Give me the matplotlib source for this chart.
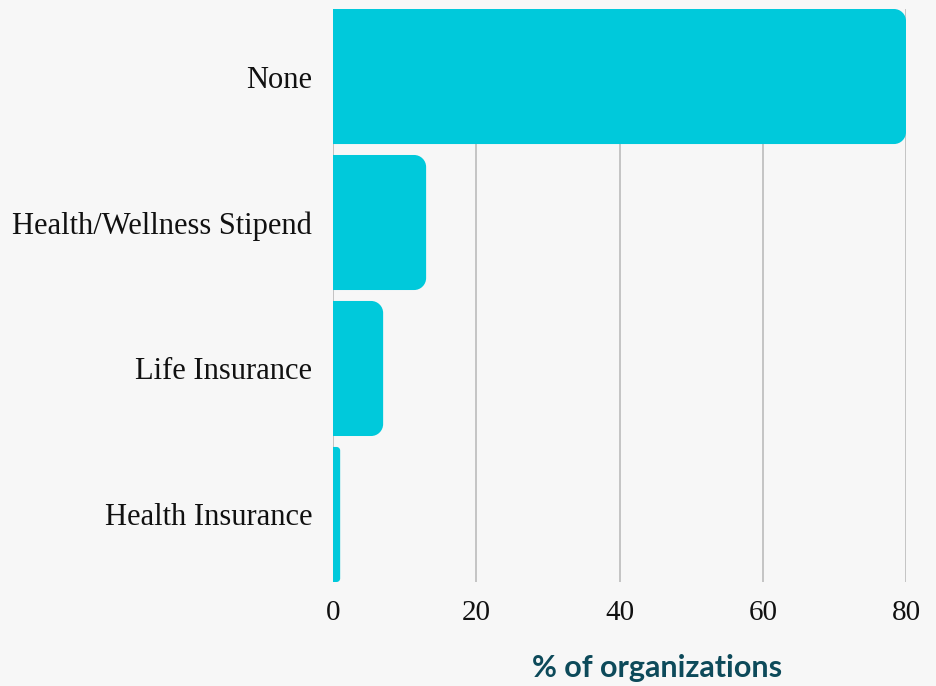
import matplotlib
matplotlib.use('Agg')
import numpy as np
from matplotlib import pyplot as plt
from matplotlib.path import Path
from matplotlib.patches import PathPatch

categories = ['None', 'Health/Wellness Stipend', 'Life Insurance', 'Health Insurance']
values = [80, 13, 7, 1]
xticks = [0, 20, 40, 60, 80]

W, H, DPI = 937, 686, 100
fig = plt.figure(figsize=(W / DPI, H / DPI), dpi=DPI, facecolor='#f7f7f7')
left, right, top, bottom = 333, 906, 9, 582
ax = fig.add_axes([left / W, 1 - bottom / H, (right - left) / W, (bottom - top) / H])
ax.set_facecolor('#f7f7f7')

bar_h = 0.925
xmin, xmax = 0, 80
ymin, ymax = len(categories) - 1 + bar_h / 2, -bar_h / 2
ax.set_xlim(xmin, xmax)
ax.set_ylim(ymin, ymax)

# pixels per data unit, used to keep the corner round
px_x = (right - left) / (xmax - xmin)
px_y = (bottom - top) / abs(ymin - ymax)
radius = 12  # px
k = 0.5523


def rounded_bar(y, w, h):
    r = min(radius, w * px_x / 2, h * px_y / 2)
    rx, ry = r / px_x, r / px_y
    y0, y1 = y - h / 2, y + h / 2
    verts = [(0, y0), (w - rx, y0),
             (w - rx + k * rx, y0), (w, y0 + ry - k * ry), (w, y0 + ry),
             (w, y1 - ry),
             (w, y1 - ry + k * ry), (w - rx + k * rx, y1), (w - rx, y1),
             (0, y1), (0, y0)]
    codes = [Path.MOVETO, Path.LINETO,
             Path.CURVE4, Path.CURVE4, Path.CURVE4,
             Path.LINETO,
             Path.CURVE4, Path.CURVE4, Path.CURVE4,
             Path.LINETO, Path.CLOSEPOLY]
    return PathPatch(Path(verts, codes), facecolor='#00c9db', edgecolor='none', zorder=3)


for i, v in enumerate(values):
    ax.add_patch(rounded_bar(i, v, bar_h))

ax.set_xticks(xticks)
ax.set_yticks(range(len(categories)))
ax.set_yticklabels(categories)
ax.grid(axis='x', color='#c4c4c4', linewidth=1.4, zorder=0)
ax.axvline(0, color='#a0a0a0', linewidth=1.4, zorder=1)
for s in ax.spines.values():
    s.set_visible(False)
ax.tick_params(length=0)
ax.tick_params(axis='y', pad=15)
ax.tick_params(axis='x', pad=13)
serif = ['Liberation Serif', 'DejaVu Serif']
for lab in ax.get_yticklabels():
    lab.set_fontfamily(serif)
    lab.set_fontsize(22)
    lab.set_color('#111111')
for lab in ax.get_xticklabels():
    lab.set_fontfamily(serif)
    lab.set_fontsize(21)
    lab.set_color('#111111')

fig.text(657 / W, 1 - 668 / H, '% of organizations', ha='center', va='center',
         fontsize=22, fontweight='bold', color='#0d4a5a', family=['Lato', 'DejaVu Sans'])

fig.savefig('out.png', dpi=DPI, facecolor=fig.get_facecolor())
